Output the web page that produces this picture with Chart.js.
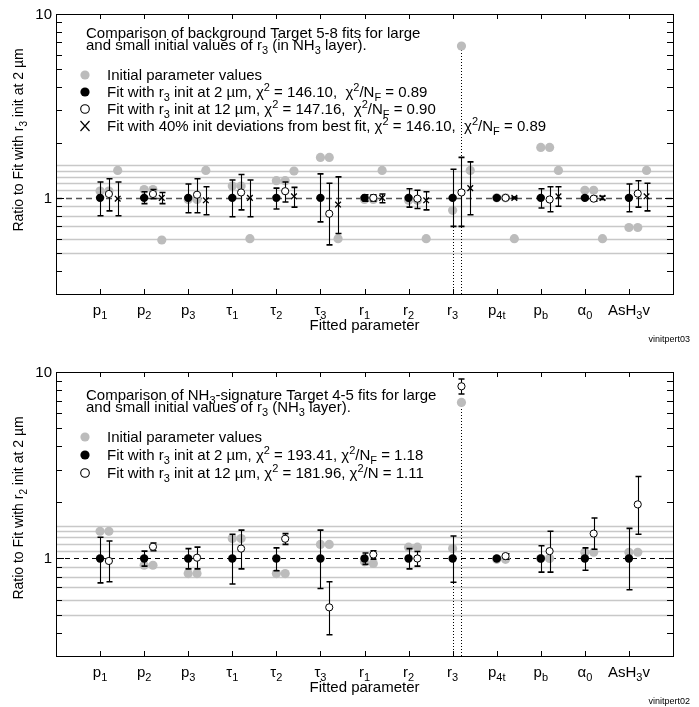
<!DOCTYPE html>
<html>
<head>
<meta charset="utf-8">
<script src="https://cdn.jsdelivr.net/npm/chart.js@4.4.0/dist/chart.umd.min.js"></script>
<style>
  html, body { margin: 0; padding: 0; background: #fff; }
  #cntr { position: relative; width: 699px; height: 707px; }
  .panel { position: absolute; left: 0; }
  #cntr_top { top: 0; }
  #cntr_bot { top: 350px; }
</style>
</head>
<body>
<div id="cntr">
  <div class="panel" id="cntr_top"><canvas id="chartTop" width="699" height="350"></canvas></div>
  <div class="panel" id="cntr_bot"><canvas id="chartBot" width="699" height="357"></canvas></div>
</div>
<script>
// Datos
const categories = ['p_{1}', 'p_{2}', 'p_{3}', 'τ_{1}', 'τ_{2}', 'τ_{3}', 'r_{1}', 'r_{2}', 'r_{3}',
  'p_{4t}', 'p_{b}', 'α_{0}', 'AsH_{3}v'];
const yTickValues = [0.3, 0.4, 0.5, 0.6, 0.7, 0.8, 0.9, 1, 2, 3, 4, 5, 6, 7, 8, 9, 10];
const yLabelValues = [1, 10];
const yLabelText = ['1', '10'];
const refLines = [0.5, 0.6, 0.7, 0.8, 0.9, 1.1, 1.2, 1.3, 1.4, 1.5];

// Panel superior (Target 5-8)
const topInit2 = [1.09, 1.11, 0.98, 1.16, 1.24, 1.66, 0.98, 0.97, 0.855, 1.0, 1.88, 1.10, 0.69];
const topInit12 = [1.09, 1.11, 0.98, 1.16, 1.24, 1.66, 0.98, 0.97, 6.7, 1.0, 1.88, 1.10, 0.69];
const topInit40 = [1.41, 0.59, 1.41, 0.6, 1.4, 0.6, 1.41, 0.6, 1.41, 0.6, 1.41, 0.6, 1.41];
const topFit2 = [1, 1, 1, 1, 1, 1, 1, 1, 1, 1, 1, 1, 1];
const topFit2Hi = [1.22, 1.08, 1.19, 1.25, 1.13, 1.35, 1.04, 1.12, 1.43, 1.015, 1.12, 1.02, 1.19];
const topFit2Lo = [0.80, 0.93, 0.83, 0.79, 0.87, 0.74, 0.96, 0.89, 0.70, 0.985, 0.88, 0.98, 0.84];
const topFit12 = [1.05, 1.05, 1.04, 1.07, 1.087, 0.82, 1.0, 0.99, 1.07, 1.0, 0.98, 0.99, 1.055];
const topFit12Hi = [1.27, 1.11, 1.27, 1.34, 1.22, 1.2, 1.04, 1.1, 1.66, 1.01, 1.15, 1.02, 1.24];
const topFit12Lo = [0.85, 0.99, 0.83, 0.86, 0.95, 0.555, 0.96, 0.876, 0.70, 0.99, 0.84, 0.96, 0.89];
const topFit40 = [0.99, 1.0, 0.97, 1.0, 1.02, 0.92, 1.0, 0.97, 1.13, 1.0, 1.02, 1.0, 1.02];
const topFit40Hi = [1.22, 1.07, 1.15, 1.25, 1.14, 1.3, 1.05, 1.08, 1.57, 1.01, 1.15, 1.02, 1.2];
const topFit40Lo = [0.80, 0.93, 0.81, 0.79, 0.89, 0.64, 0.94, 0.86, 0.81, 0.99, 0.9, 0.98, 0.85];

// Panel inferior (Target 4-5)
const botInit2 = [1.40, 0.92, 0.83, 1.28, 0.83, 1.19, 0.96, 1.15, 1.13, 0.99, 1.0, 1.08, 1.08];
const botInit12 = [1.40, 0.92, 0.83, 1.28, 0.83, 1.19, 0.94, 1.15, 6.87, 0.99, 1.0, 1.08, 1.08];
const botFit2 = [1, 1, 1, 1, 1, 1, 1, 1, 1, 1, 1, 1, 1];
const botFit2Hi = [1.30, 1.095, 1.13, 1.35, 1.14, 1.42, 1.07, 1.13, 1.32, 1.015, 1.17, 1.14, 1.45];
const botFit2Lo = [0.74, 0.91, 0.88, 0.73, 0.86, 0.69, 0.93, 0.88, 0.746, 0.985, 0.845, 0.865, 0.68];
const botFit12 = [0.97, 1.156, 1.01, 1.13, 1.276, 0.547, 1.05, 1.0, 8.38, 1.03, 1.095, 1.36, 1.95];
const botFit12Hi = [1.24, 1.21, 1.15, 1.42, 1.36, 0.75, 1.10, 1.09, 9.17, 1.06, 1.40, 1.65, 2.75];
const botFit12Lo = [0.75, 1.10, 0.88, 0.88, 1.19, 0.39, 0.99, 0.91, 7.62, 0.99, 0.845, 1.12, 1.35];

// Estilo
const FONT = '"Liberation Sans", Arial, Helvetica, sans-serif';
const GRAY = '#bcbcbc';
const R3 = 8; // indice de r3

/**
 * * Convierte "r_{3}" / "χ^{2}" en segmentos de texto
 */
function parseRich(s) {
  const out = [];
  let buf = '';
  let i = 0;
  while (i < s.length) {
    const c = s[i];
    if ((c === '_' || c === '^') && s[i + 1] === '{') {
      if (buf) { out.push({ t: buf, m: 0 }); buf = ''; }
      const j = s.indexOf('}', i);
      out.push({ t: s.slice(i + 2, j), m: c === '_' ? 1 : 2 });
      i = j + 1;
    } else {
      buf += c;
      i++;
    }
  }
  if (buf) out.push({ t: buf, m: 0 });
  return out;
}

function drawRich(ctx, s, x, y, size, align) {
  const segs = parseRich(s);
  const small = Math.round(size * 0.7);
  let w = 0;
  segs.forEach(g => {
    ctx.font = (g.m ? small : size) + 'px ' + FONT;
    g.w = ctx.measureText(g.t).width;
    w += g.w;
  });
  let cx = align === 'center' ? x - w / 2 : (align === 'right' ? x - w : x);
  ctx.textAlign = 'left';
  ctx.textBaseline = 'alphabetic';
  ctx.fillStyle = '#000';
  segs.forEach(g => {
    ctx.font = (g.m ? small : size) + 'px ' + FONT;
    const dy = g.m === 1 ? size * 0.28 : (g.m === 2 ? -size * 0.42 : 0);
    ctx.fillText(g.t, cx, y + dy);
    cx += g.w;
  });
}

function pts(values, off) {
  return values.map((v, i) => ({ x: i + 1 + off, y: v }));
}

function grayDs(values, off) {
  return {
    data: pts(values, off), order: 3, showLine: false,
    pointStyle: 'circle', pointRadius: 4.6,
    pointBackgroundColor: GRAY, pointBorderColor: GRAY, pointBorderWidth: 0
  };
}

function fitDs(values, hi, lo, off, kind) {
  const ds = {
    data: pts(values, off), order: 1, showLine: false,
    errHi: hi, errLo: lo, isFit: true,
    pointBorderColor: '#000'
  };
  if (kind === 'filled') {
    Object.assign(ds, { pointStyle: 'circle', pointRadius: 4.2, pointBackgroundColor: '#000', pointBorderWidth: 0 });
  } else if (kind === 'open') {
    Object.assign(ds, { pointStyle: 'circle', pointRadius: 3.6, pointBackgroundColor: '#fff', pointBorderWidth: 1 });
  } else {
    Object.assign(ds, { pointStyle: 'crossRot', pointRadius: 4, pointBorderWidth: 1.3 });
  }
  return ds;
}

/**
 * * Plugin con ejes, líneas de referencia, barras de error y textos
 */
const decoPlugin = {
  id: 'deco',
  beforeDatasetsDraw(chart) {
    const ctx = chart.ctx;
    const o = chart.options.plugins.deco;
    const xs = chart.scales.x, ys = chart.scales.y;
    const a = chart.chartArea;
    ctx.save();
    // lineas grises
    ctx.strokeStyle = '#c8c8c8';
    ctx.lineWidth = 1.4;
    refLines.forEach(v => {
      const y = Math.round(ys.getPixelForValue(v)) + 0.5;
      ctx.beginPath(); ctx.moveTo(a.left, y); ctx.lineTo(a.right, y); ctx.stroke();
    });
    // linea discontinua en 1
    const y1 = Math.round(ys.getPixelForValue(1)) + 0.5;
    ctx.strokeStyle = o.dashColor;
    ctx.lineWidth = o.dashWidth;
    ctx.setLineDash(o.dash);
    ctx.beginPath(); ctx.moveTo(a.left, y1); ctx.lineTo(a.right, y1); ctx.stroke();
    // lineas punteadas en r3
    ctx.strokeStyle = '#000';
    ctx.lineWidth = 1;
    ctx.setLineDash([1, 2]);
    o.drops.forEach(d => {
      const x = Math.round(xs.getPixelForValue(d.x)) + 0.5;
      ctx.beginPath(); ctx.moveTo(x, a.bottom); ctx.lineTo(x, ys.getPixelForValue(d.y)); ctx.stroke();
    });
    ctx.setLineDash([]);
    ctx.restore();
  },
  beforeDatasetDraw(chart, args) {
    const ds = chart.data.datasets[args.index];
    if (!ds.isFit || chart.$errDone) return;
    chart.$errDone = true;
    const ctx = chart.ctx;
    const ys = chart.scales.y;
    ctx.save();
    ctx.strokeStyle = '#000';
    chart.data.datasets.forEach((d, idx) => {
      if (!d.isFit) return;
      const meta = chart.getDatasetMeta(idx);
      meta.data.forEach((el, i) => {
        const x = Math.round(el.x) + 0.5;
        const yh = ys.getPixelForValue(d.errHi[i]);
        const yl = ys.getPixelForValue(d.errLo[i]);
        ctx.lineWidth = 1.1;
        ctx.beginPath(); ctx.moveTo(x, yh); ctx.lineTo(x, yl); ctx.stroke();
        ctx.lineWidth = 1.6;
        ctx.beginPath();
        ctx.moveTo(x - 3, yh); ctx.lineTo(x + 3, yh);
        ctx.moveTo(x - 3, yl); ctx.lineTo(x + 3, yl);
        ctx.stroke();
      });
    });
    ctx.restore();
  },
  beforeDraw(chart) { chart.$errDone = false; },
  afterDraw(chart) {
    const ctx = chart.ctx;
    const o = chart.options.plugins.deco;
    const xs = chart.scales.x, ys = chart.scales.y;
    const a = chart.chartArea;
    ctx.save();
    // marco
    ctx.strokeStyle = '#000';
    ctx.lineWidth = 1;
    ctx.strokeRect(Math.round(a.left) + 0.5, Math.round(a.top) + 0.5,
      Math.round(a.right - a.left), Math.round(a.bottom - a.top));
    ctx.beginPath();
    categories.forEach((c, i) => {
      const x = Math.round(xs.getPixelForValue(i + 1)) + 0.5;
      ctx.moveTo(x, a.bottom); ctx.lineTo(x, a.bottom - 5);
      ctx.moveTo(x, a.top); ctx.lineTo(x, a.top + 5);
    });
    yTickValues.forEach(v => {
      const y = Math.round(ys.getPixelForValue(v)) + 0.5;
      const len = (v === 1 || v === 10) ? 8 : 6;
      ctx.moveTo(a.left, y); ctx.lineTo(a.left + len, y);
      ctx.moveTo(a.right, y); ctx.lineTo(a.right - len, y);
    });
    ctx.stroke();
    // etiquetas
    yLabelValues.forEach((v, i) => {
      drawRich(ctx, yLabelText[i], a.left - 4, ys.getPixelForValue(v) + 5, 15, 'right');
    });
    categories.forEach((c, i) => {
      drawRich(ctx, c, xs.getPixelForValue(i + 1), a.bottom + 21, 15, 'center');
    });
    drawRich(ctx, 'Fitted parameter', (a.left + a.right) / 2, a.bottom + 36, 15, 'center');
    ctx.save();
    ctx.translate(23, o.yTitleY);
    ctx.rotate(-Math.PI / 2);
    drawRich(ctx, o.yTitle, 0, 0, 14, 'center');
    ctx.restore();
    // titulo y leyenda
    o.title.forEach((t, i) => drawRich(ctx, t, 86, o.titleY[i], 15, 'left'));
    o.legend.forEach((l, i) => {
      const y = o.legendY[i];
      ctx.fillStyle = '#000';
      ctx.strokeStyle = '#000';
      if (l.kind === 'gray') {
        ctx.fillStyle = GRAY;
        ctx.beginPath(); ctx.arc(85, y, 4.6, 0, Math.PI * 2); ctx.fill();
      } else if (l.kind === 'filled') {
        ctx.beginPath(); ctx.arc(85, y, 4.6, 0, Math.PI * 2); ctx.fill();
      } else if (l.kind === 'open') {
        ctx.lineWidth = 1.1;
        ctx.beginPath(); ctx.arc(85, y, 4.3, 0, Math.PI * 2); ctx.stroke();
      } else {
        ctx.lineWidth = 1.2;
        ctx.beginPath();
        ctx.moveTo(80.5, y - 5); ctx.lineTo(89.5, y + 5);
        ctx.moveTo(89.5, y - 5); ctx.lineTo(80.5, y + 5);
        ctx.stroke();
      }
      drawRich(ctx, l.text, 107, y + 5, 15, 'left');
    });
    ctx.font = '9px ' + FONT;
    ctx.textAlign = 'right';
    ctx.fillStyle = '#000';
    ctx.fillText(o.tag, 690, a.bottom + 48);
    ctx.restore();
  }
};

function makeChart(id, datasets, padding, deco) {
  return new Chart(document.getElementById(id), {
    type: 'scatter',
    data: { datasets: datasets },
    plugins: [decoPlugin],
    options: {
      responsive: false,
      animation: false,
      devicePixelRatio: 1,
      layout: { padding: padding },
      scales: {
        x: { type: 'linear', min: 0, max: 14, display: false },
        y: { type: 'logarithmic', min: 0.3, max: 10, display: false }
      },
      plugins: { legend: { display: false }, tooltip: { enabled: false }, deco: deco }
    }
  });
}

makeChart('chartTop', [
  fitDs(topFit2, topFit2Hi, topFit2Lo, 0, 'filled'),
  fitDs(topFit12, topFit12Hi, topFit12Lo, 0.2, 'open'),
  fitDs(topFit40, topFit40Hi, topFit40Lo, 0.4, 'cross'),
  grayDs(topInit2, 0),
  grayDs(topInit12, 0.2),
  grayDs(topInit40, 0.4)
], { left: 56, right: 26, top: 14, bottom: 56 }, {
  dash: [6, 4], dashColor: '#555', dashWidth: 1.5,
  drops: [{ x: 1 + R3, y: topInit2[R3] }, { x: 1.2 + R3, y: topInit12[R3] }],
  yTitle: 'Ratio to Fit with r_{3} init at 2 µm', yTitleY: 140,
  title: ['Comparison of background Target 5-8 fits for large',
    'and small initial values of r_{3} (in NH_{3} layer).'],
  titleY: [38, 49.5],
  legend: [
    { kind: 'gray', text: 'Initial parameter values' },
    { kind: 'filled', text: 'Fit with r_{3} init at 2 µm, χ^{2} = 146.10,  χ^{2}/N_{F} = 0.89' },
    { kind: 'open', text: 'Fit with r_{3} init at 12 µm, χ^{2} = 147.16,  χ^{2}/N_{F} = 0.90' },
    { kind: 'cross', text: 'Fit with 40% init deviations from best fit, χ^{2} = 146.10,  χ^{2}/N_{F} = 0.89' }
  ],
  legendY: [75, 92, 109, 126],
  tag: 'vinitpert03'
});

makeChart('chartBot', [
  fitDs(botFit2, botFit2Hi, botFit2Lo, 0, 'filled'),
  fitDs(botFit12, botFit12Hi, botFit12Lo, 0.2, 'open'),
  grayDs(botInit2, 0),
  grayDs(botInit12, 0.2)
], { left: 56, right: 26, top: 22, bottom: 51 }, {
  dash: [5, 4], dashColor: '#000', dashWidth: 1.1,
  drops: [{ x: 1 + R3, y: botInit2[R3] }, { x: 1.2 + R3, y: botInit12[R3] }],
  yTitle: 'Ratio to Fit with r_{2} init at 2 µm', yTitleY: 158,
  title: ['Comparison of NH_{3}-signature Target 4-5 fits for large',
    'and small initial values of r_{3} (NH_{3} layer).'],
  titleY: [50, 61.5],
  legend: [
    { kind: 'gray', text: 'Initial parameter values' },
    { kind: 'filled', text: 'Fit with r_{3} init at 2 µm, χ^{2} = 193.41, χ^{2}/N_{F} = 1.18' },
    { kind: 'open', text: 'Fit with r_{3} init at 12 µm, χ^{2} = 181.96, χ^{2}/N = 1.11' }
  ],
  legendY: [87, 105, 123],
  tag: 'vinitpert02'
});
</script>
</body>
</html>
